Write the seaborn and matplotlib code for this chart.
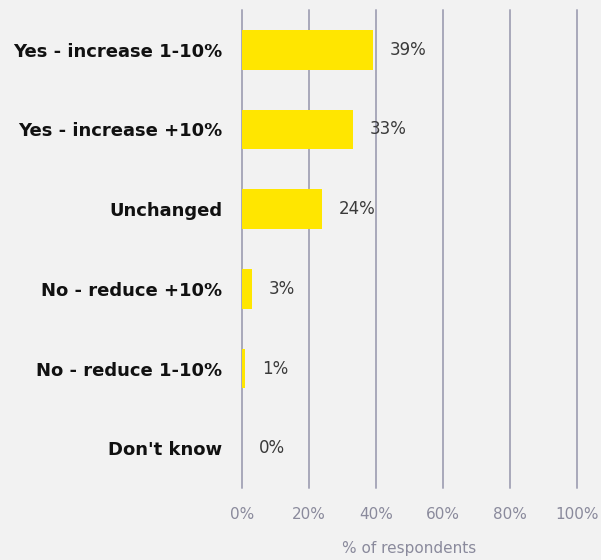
import matplotlib
matplotlib.use("Agg")
import matplotlib.pyplot as plt
import seaborn as sns
import pandas as pd

categories = ["Yes - increase 1-10%", "Yes - increase +10%", "Unchanged",
              "No - reduce +10%", "No - reduce 1-10%", "Don't know"]
values = [39, 33, 24, 3, 1, 0]
tick_values = [0, 20, 40, 60, 80, 100]
tick_labels = ["0%", "20%", "40%", "60%", "80%", "100%"]

df = pd.DataFrame({"category": categories, "value": values})

sns.set_theme(style="white")
plt.rcParams["font.family"] = ["DejaVu Sans"]

bg = "#f2f2f2"
grid_col = "#a9a9ba"
tick_col = "#8a8a9c"

fig = plt.figure(figsize=(6.01, 5.6), dpi=100, facecolor=bg)
ax = fig.add_axes([242 / 601, 1 - 488 / 560, (577 - 242) / 601, (488 - 10) / 560])
ax.set_facecolor(bg)

# vertical gridlines drawn unclipped so the 0% and 100% lines keep full width
for t in tick_values:
    ax.axvline(t, color=grid_col, lw=1.4, zorder=0, clip_on=False)

sns.barplot(data=df, x="value", y="category", color="#FFE600", width=0.5,
            saturation=1, linewidth=0, ax=ax, zorder=2)

for i, v in enumerate(values):
    ax.annotate(f"{v}%", xy=(v, i), xytext=(12, 0), textcoords="offset points",
                ha="left", va="center", fontsize=12, color="#3a3a3a")

ax.set_xlim(0, 100)
ax.set_ylim(5.5, -0.5)
ax.set_xticks(tick_values)
ax.set_xticklabels(tick_labels, color=tick_col, fontsize=11)
ax.tick_params(axis="x", length=0, pad=14)
ax.tick_params(axis="y", length=0, pad=14)
for lbl in ax.get_yticklabels():
    lbl.set_fontweight("bold")
    lbl.set_fontsize(13)
    lbl.set_color("#111111")
ax.set_ylabel("")
ax.set_xlabel("% of respondents", color=tick_col, fontsize=11, labelpad=13)
for s in ax.spines.values():
    s.set_visible(False)

fig.savefig("out.png", dpi=100, facecolor=bg)
